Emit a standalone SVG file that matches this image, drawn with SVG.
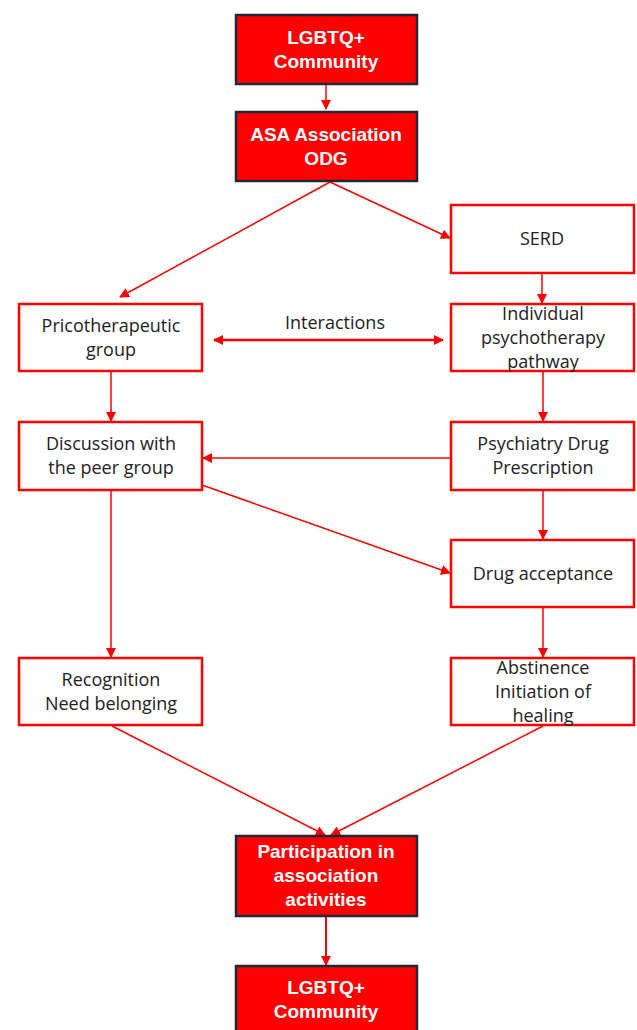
<svg xmlns="http://www.w3.org/2000/svg" width="637" height="1030" viewBox="0 0 637 1030">
<defs>
<marker id="ah" markerWidth="10" markerHeight="10" refX="9" refY="5" orient="auto" markerUnits="userSpaceOnUse">
<path d="M0,0 L10,5 L0,10 Z" fill="#ff0000"/>
</marker>
<marker id="ahs" markerWidth="10" markerHeight="10" refX="1" refY="5" orient="auto" markerUnits="userSpaceOnUse">
<path d="M10,0 L0,5 L10,10 Z" fill="#ff0000"/>
</marker>
<style>
.dark{fill:#ff0000;stroke:#1c2a38;stroke-width:2.5}
.light{fill:#ffffff;stroke:#ff0000;stroke-width:2.5}
.wt{font-family:"Liberation Sans",Arial,sans-serif;font-weight:bold;font-size:19px;fill:#ffffff;text-anchor:middle}
.bt{font-family:"Open Sans","Liberation Sans",sans-serif;font-size:18px;fill:#222222;text-anchor:middle}
.c{stroke:#ff0000;stroke-width:1.5;fill:none;marker-end:url(#ah)}
</style>
</defs>
<rect width="637" height="1030" fill="#ffffff"/>
<g id="connectors">
<line class="c" x1="326" y1="84" x2="326" y2="109"/>
<line class="c" x1="330" y1="182" x2="120" y2="297"/>
<line class="c" x1="330" y1="182" x2="450" y2="238"/>
<line class="c" x1="542" y1="273" x2="542" y2="303"/>
<line class="c" x1="214" y1="340" x2="443" y2="340" style="stroke-width:2.5;marker-start:url(#ahs)"/>
<line class="c" x1="111" y1="371" x2="111" y2="421"/>
<line class="c" x1="543" y1="371" x2="543" y2="421"/>
<line class="c" x1="451" y1="458" x2="203" y2="458"/>
<line class="c" x1="202" y1="485" x2="450" y2="573"/>
<line class="c" x1="543" y1="490" x2="543" y2="539"/>
<line class="c" x1="111" y1="490" x2="111" y2="657"/>
<line class="c" x1="543" y1="607" x2="543" y2="657"/>
<line class="c" x1="112" y1="726" x2="325" y2="835"/>
<line class="c" x1="543" y1="726" x2="331" y2="835"/>
<line class="c" x1="326" y1="916" x2="326" y2="965" style="stroke-width:2"/>
<text x="335" y="329" class="bt">Interactions</text>
</g>
<g id="lgbtq-top">
<rect class="dark" x="236" y="15" width="181" height="69"/>
<text x="326" y="44" class="wt">LGBTQ+</text>
<text x="326" y="68" class="wt">Community</text>
</g>
<g id="asa">
<rect class="dark" x="236" y="112" width="181" height="69"/>
<text x="326" y="141" class="wt">ASA Association</text>
<text x="326" y="165" class="wt">ODG</text>
</g>
<g id="serd">
<rect class="light" x="451" y="205" width="183" height="68"/>
<text x="542" y="245" class="bt">SERD</text>
</g>
<g id="pricotherapeutic">
<rect class="light" x="19" y="304" width="183" height="67"/>
<text x="111" y="332" class="bt">Pricotherapeutic</text>
<text x="111" y="356" class="bt">group</text>
</g>
<g id="individual">
<rect class="light" x="451" y="304" width="183" height="67"/>
<text x="543" y="320" class="bt">Individual</text>
<text x="543" y="344" class="bt">psychotherapy</text>
<text x="543" y="368" class="bt">pathway</text>
</g>
<g id="discussion">
<rect class="light" x="19" y="422" width="183" height="68"/>
<text x="111" y="450" class="bt">Discussion with</text>
<text x="111" y="474" class="bt">the peer group</text>
</g>
<g id="psychiatry">
<rect class="light" x="451" y="422" width="183" height="68"/>
<text x="543" y="450" class="bt">Psychiatry Drug</text>
<text x="543" y="474" class="bt">Prescription</text>
</g>
<g id="drug-acceptance">
<rect class="light" x="451" y="540" width="183" height="67"/>
<text x="543" y="580" class="bt">Drug acceptance</text>
</g>
<g id="recognition">
<rect class="light" x="19" y="658" width="183" height="67"/>
<text x="111" y="686" class="bt">Recognition</text>
<text x="111" y="710" class="bt">Need belonging</text>
</g>
<g id="abstinence">
<rect class="light" x="451" y="658" width="183" height="67"/>
<text x="543" y="674" class="bt">Abstinence</text>
<text x="543" y="698" class="bt">Initiation of</text>
<text x="543" y="722" class="bt">healing</text>
</g>
<g id="participation">
<rect class="dark" x="236" y="836" width="181" height="80"/>
<text x="326" y="858" class="wt">Participation in</text>
<text x="326" y="882" class="wt">association</text>
<text x="326" y="906" class="wt">activities</text>
</g>
<g id="lgbtq-bottom">
<rect class="dark" x="236" y="966" width="181" height="70"/>
<text x="326" y="994" class="wt">LGBTQ+</text>
<text x="326" y="1018" class="wt">Community</text>
</g>
</svg>
